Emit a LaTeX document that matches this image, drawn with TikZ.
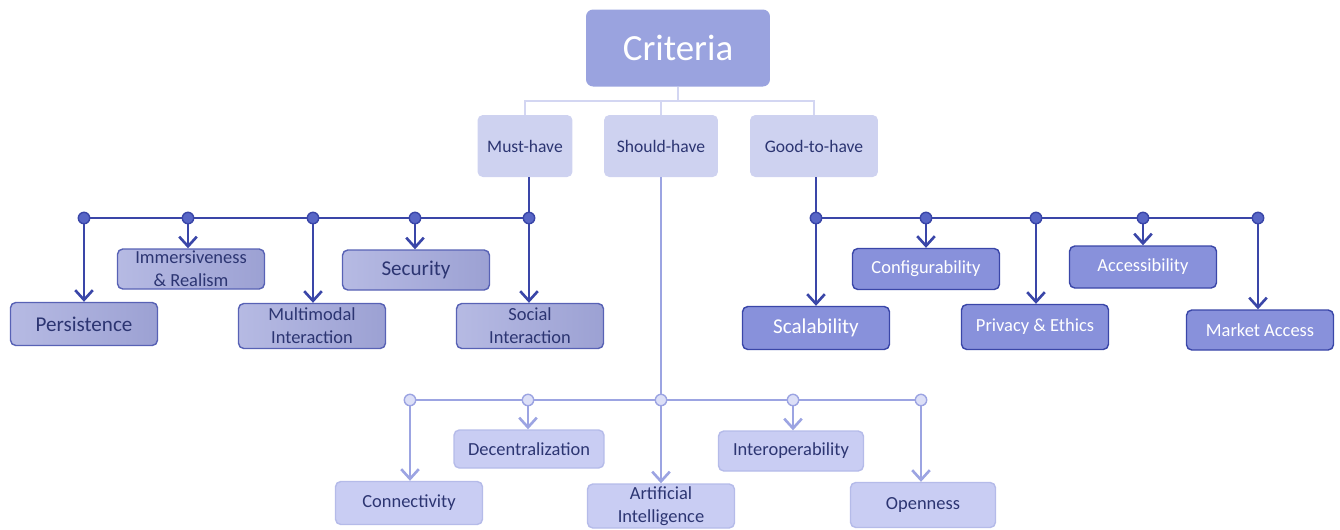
\documentclass[tikz,border=0pt]{standalone}
\usepackage{fontspec}
\setmainfont{Carlito}
\usetikzlibrary{arrows.meta,positioning}
\definecolor{critfill}{HTML}{9AA3DF}
\definecolor{levelfill}{HTML}{CED2F0}
\definecolor{treeline}{HTML}{D3D6F2}
\definecolor{navytext}{HTML}{2C3572}
\definecolor{mustline}{HTML}{3A46A8}
\definecolor{mustdot}{HTML}{5866C6}
\definecolor{mustleft}{HTML}{B6BAE3}
\definecolor{mustright}{HTML}{9CA1D3}
\definecolor{goodfill}{HTML}{8891DB}
\definecolor{shouldfill}{HTML}{C9CDF3}
\definecolor{shouldline}{HTML}{9CA4E2}
\definecolor{shoulddot}{HTML}{DCDFF7}
\begin{document}
\begin{tikzpicture}[x=0.02cm,y=-0.02cm,
    box/.style={rounded corners=3pt, align=center, inner sep=0pt, minimum width=2.94cm,
      minimum height=0.86cm, font=\fontsize{10.5}{13}\selectfont},
    mustbox/.style={box, draw=mustline!85, line width=0.8pt, left color=mustleft,
      right color=mustright, text=navytext},
    goodbox/.style={box, draw=mustline, line width=0.8pt, fill=goodfill, text=white},
    shouldbox/.style={box, draw=shouldline!75, line width=0.8pt, fill=shouldfill, text=navytext},
    levelbox/.style={rounded corners=3pt, fill=levelfill, minimum height=1.24cm,
      inner sep=0pt, text=navytext, font=\fontsize{10}{12}\selectfont},
    critbox/.style={rounded corners=4pt, fill=critfill, minimum width=3.68cm,
      minimum height=1.54cm, text=white, font=\fontsize{21}{25}\selectfont},
    bigtext/.style={font=\fontsize{12}{14}\selectfont},
    mdot/.style={circle, draw=mustline, fill=mustdot, line width=0.8pt,
      minimum size=6.5pt, inner sep=0pt},
    sdot/.style={mdot, draw=shouldline, fill=shoulddot},
    tline/.style={draw=treeline, line width=1pt},
    mline/.style={draw=mustline, line width=1.5pt},
    sline/.style={draw=shouldline, line width=1.5pt},
    marrow/.style={mline, -{Straight Barb[length=5.5pt,width=10pt]}},
    sarrow/.style={sline, -{Straight Barb[length=5.5pt,width=10pt]}}]
  \useasboundingbox (0,0) rectangle (1340,529);

  % top levels
  \node[critbox] (crit) at (678,48) {Criteria};
  \node[levelbox, minimum width=1.9cm] (must) at (525,146) {Must-have};
  \node[levelbox, minimum width=2.28cm] (should) at (661,146) {Should-have};
  \node[levelbox, minimum width=2.56cm] (good) at (814,146) {Good-to-have};
  \coordinate (hub) at (678,101);
  \draw[tline] (crit) -- (hub);
  \draw[tline] (hub) -| (must);
  \draw[tline] (hub) -| (should);
  \draw[tline] (hub) -| (good);

  % must-have
  \node[mustbox, bigtext] (pers) at (84,324) {Persistence};
  \node[mustbox, minimum height=0.8cm] (imm) at (191,269) {Immersiveness\\\& Realism};
  \node[mustbox, minimum height=0.9cm] (multi) at (312,326) {Multimodal\\Interaction};
  \node[mustbox, bigtext, minimum height=0.8cm] (secu) at (416,270) {Security};
  \node[mustbox, minimum height=0.9cm] (social) at (530,326) {Social\\Interaction};
  \node[mdot] (m1) at (84,218) {};
  \node[mdot] (m2) at (188,218) {};
  \node[mdot] (m3) at (313,218) {};
  \node[mdot] (m4) at (415,218) {};
  \node[mdot] (m5) at (529,218) {};
  \draw[mline] (must.south -| m5) -- (m5);
  \draw[mline] (m1) -- (m2) (m2) -- (m3) (m3) -- (m4) (m4) -- (m5);
  \draw[marrow] (m1) -- (pers.north -| m1);
  \draw[marrow] (m2) -- (imm.north -| m2);
  \draw[marrow] (m3) -- (multi.north -| m3);
  \draw[marrow] (m4) -- (secu.north -| m4);
  \draw[marrow] (m5) -- (social.north -| m5);

  % good-to-have
  \node[goodbox, bigtext] (scal) at (816,328) {Scalability};
  \node[goodbox, minimum height=0.82cm] (conf) at (926,269) {Configurability};
  \node[goodbox, minimum height=0.9cm] (priv) at (1035,327) {Privacy \& Ethics};
  \node[goodbox, minimum height=0.84cm] (acc) at (1143,267) {Accessibility};
  \node[goodbox, minimum height=0.8cm] (market) at (1260,330) {Market Access};
  \node[mdot] (g1) at (816,218) {};
  \node[mdot] (g2) at (926,218) {};
  \node[mdot] (g3) at (1036,218) {};
  \node[mdot] (g4) at (1143,218) {};
  \node[mdot] (g5) at (1258,218) {};
  \draw[mline] (good.south -| g1) -- (g1);
  \draw[mline] (g1) -- (g2) (g2) -- (g3) (g3) -- (g4) (g4) -- (g5);
  \draw[marrow] (g1) -- (scal.north -| g1);
  \draw[marrow] (g2) -- (conf.north -| g2);
  \draw[marrow] (g3) -- (priv.north -| g3);
  \draw[marrow] (g4) -- (acc.north -| g4);
  \draw[marrow] (g5) -- (market.north -| g5);

  % should-have
  \node[shouldbox] (conn) at (409,503) {Connectivity};
  \node[shouldbox, minimum width=3cm, minimum height=0.76cm] (decen) at (529,449) {Decentralization};
  \node[shouldbox, minimum height=0.88cm] (ai) at (661,506) {Artificial\\Intelligence};
  \node[shouldbox, minimum width=2.9cm, minimum height=0.8cm] (inter) at (791,451) {Interoperability};
  \node[shouldbox, minimum width=2.9cm, minimum height=0.9cm] (open) at (923,505) {Openness};
  \node[sdot] (s1) at (410,400) {};
  \node[sdot] (s2) at (528,400) {};
  \node[sdot] (s3) at (661,400) {};
  \node[sdot] (s4) at (793,400) {};
  \node[sdot] (s5) at (921,400) {};
  \draw[sline] (should.south -| s3) -- (s3);
  \draw[sline] (s1) -- (s2) (s2) -- (s3) (s3) -- (s4) (s4) -- (s5);
  \draw[sarrow] (s1) -- (conn.north -| s1);
  \draw[sarrow] (s2) -- (decen.north -| s2);
  \draw[sarrow] (s3) -- (ai.north -| s3);
  \draw[sarrow] (s4) -- (inter.north -| s4);
  \draw[sarrow] (s5) -- (open.north -| s5);
\end{tikzpicture}
\end{document}
